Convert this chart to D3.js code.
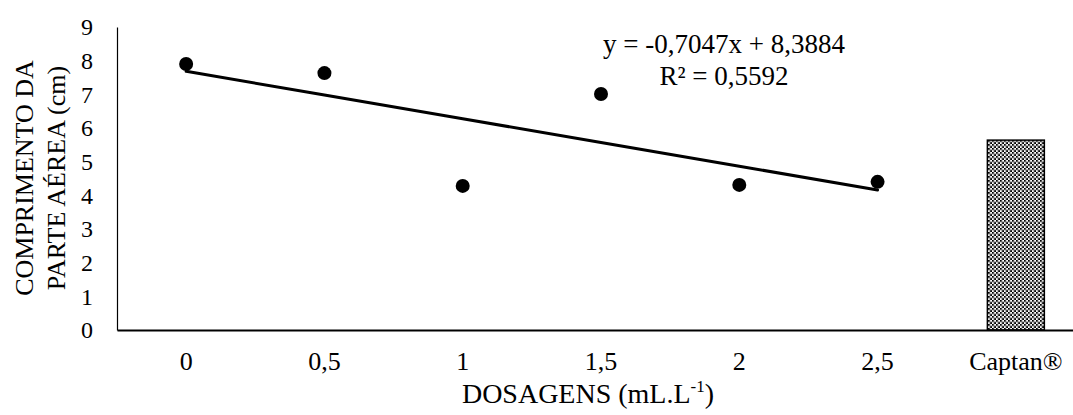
<!DOCTYPE html>
<html><head><meta charset="utf-8">
<script src="https://cdn.jsdelivr.net/npm/d3@7"></script>
<style>body{margin:0;background:#fff}svg{display:block}</style>
</head><body><svg id="c" width="1073" height="415"></svg>
<script>
const categories = ["0","0,5","1","1,5","2","2,5","Captan®"];
const doseValues = [7.90, 7.63, 4.28, 7.01, 4.31, 4.40];
const captanValue = [5.64];
const yTicks = [0,1,2,3,4,5,6,7,8,9];
const trend = {slope: -0.7047, intercept: 8.3884};
const eqText = "y = -0,7047x + 8,3884";
const r2Text = "R² = 0,5592";

const FF = '"Liberation Serif", "Times New Roman", serif';
const svg = d3.select("#c");
const x = d3.scaleBand().domain(categories).range([117, 1085]).paddingInner(0.588).paddingOuter(0.294);
const xc = d => x(d) + x.bandwidth()/2;
const y = d3.scaleLinear().domain([0,9]).range([330, 27]);

const defs = svg.append("defs");
const pat = defs.append("pattern").attr("id","chk").attr("width",4).attr("height",4).attr("patternUnits","userSpaceOnUse");
pat.append("rect").attr("width",4).attr("height",4).attr("fill","#fff");
pat.append("rect").attr("x",0).attr("y",0).attr("width",2).attr("height",2).attr("fill","#000");
pat.append("rect").attr("x",2).attr("y",2).attr("width",2).attr("height",2).attr("fill","#000");
pat.append("rect").attr("x",1.5).attr("y",0).attr("width",0.8).attr("height",4).attr("fill","#888");
pat.append("rect").attr("x",0).attr("y",1.5).attr("width",4).attr("height",0.8).attr("fill","#888");

// bar
svg.append("g").selectAll("rect").data(captanValue).join("rect")
  .attr("x", x("Captan®"))
  .attr("width", x.bandwidth())
  .attr("y", d => y(d)).attr("height", d => y(0) - y(d))
  .attr("fill","url(#chk)").attr("stroke","#000").attr("stroke-width",1.5);

// y axis
const ya = d3.axisLeft(y).tickValues(yTicks).tickSize(0).tickPadding(24).tickFormat(d3.format("d"));
const gy = svg.append("g").attr("transform","translate(117,0)").call(ya);
gy.select(".domain").attr("stroke","#000").attr("stroke-width",1.2);
gy.selectAll("text").style("font-size","24px").style("font-family",FF).attr("fill","#000");

// x axis
const xa = d3.axisBottom(x).tickSize(0).tickPadding(22);
const gx = svg.append("g").attr("transform","translate(0,330)").call(xa);
gx.select(".domain").attr("stroke","#000").attr("stroke-width",2);
gx.selectAll("text").style("font-size","26px").style("font-family",FF).attr("fill","#000");

// trend line
const doseCats = categories.slice(0,6);
const line = d3.line().x(d => xc(d)).y((d,i) => y(trend.slope*(i+1) + trend.intercept));
svg.append("path").datum(doseCats).attr("d", line).attr("fill","none").attr("stroke","#000").attr("stroke-width",3).attr("stroke-linecap","round");

// points
svg.append("g").selectAll("circle").data(doseValues).join("circle")
  .attr("cx",(d,i)=>xc(categories[i])).attr("cy",d=>y(d)).attr("r",7).attr("fill","#000");

// equation
const T = (sel) => sel.style("font-family",FF).attr("fill","#000");
T(svg.append("text").attr("x",724).attr("y",53).attr("text-anchor","middle").style("font-size","27px").text(eqText));
T(svg.append("text").attr("x",724).attr("y",85).attr("text-anchor","middle").style("font-size","27px").text(r2Text));

// axis titles
const yt = T(svg.append("text").attr("transform","translate(0,178) rotate(-90)").attr("text-anchor","middle").style("font-size","26px"));
yt.append("tspan").attr("x",0).attr("y",33).text("COMPRIMENTO DA");
yt.append("tspan").attr("x",0).attr("y",65).text("PARTE AÉREA (cm)");

const xt = T(svg.append("text").attr("x",588).attr("y",403).attr("text-anchor","middle").style("font-size","28px"));
xt.append("tspan").text("DOSAGENS (mL.L");
xt.append("tspan").style("font-size","17px").attr("dy",-11).text("-1");
xt.append("tspan").attr("dy",11).text(")");
</script></body></html>
